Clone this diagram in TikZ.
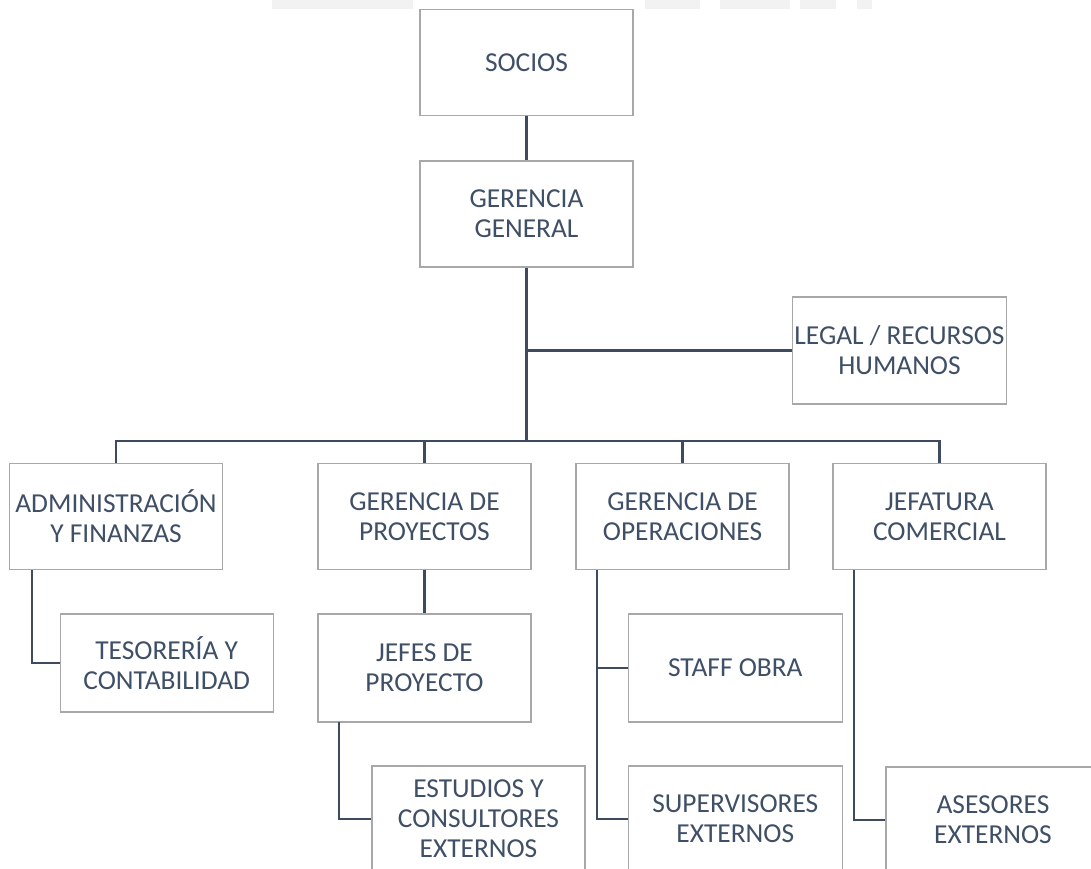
\documentclass[tikz,border=0pt]{standalone}
\usepackage{fontspec}
\setmainfont{Carlito}
\definecolor{slate}{HTML}{3F4F66}
\definecolor{linec}{HTML}{3E4B5E}
\definecolor{boxline}{HTML}{A8A8A8}
\definecolor{bandgray}{HTML}{F2F2F2}
\begin{document}
\begin{tikzpicture}[x=1pt,y=-1pt,
  unit/.style={draw=boxline, line width=1.3pt, fill=white, text=slate,
    minimum width=213pt, minimum height=106pt, inner sep=0pt, align=center,
    font=\fontsize{27.4}{30}\selectfont},
  link/.style={draw=linec, line width=2.6pt}]
\useasboundingbox (0,0) rectangle (1091,868);
\clip (0,0) rectangle (1091,868);
\fill[white] (0,0) rectangle (1091,868);

% faint letterhead band along the top edge
\fill[bandgray] (272,0) rectangle (413,9);
\fill[bandgray] (645,0) rectangle (700,9);
\fill[bandgray] (720,0) rectangle (790,9);
\fill[bandgray] (800,0) rectangle (836,9);
\fill[bandgray] (857,0) rectangle (872,9);

% top of the chart
\node[unit] (socios) at (526.5,62.5) {SOCIOS};
\node[unit] (gg) at (526.5,214) {GERENCIA\\GENERAL};
\node[unit, minimum width=214pt, minimum height=107pt] (legal) at (899.5,350.5) {LEGAL / RECURSOS\\HUMANOS};

% second level
\node[unit] (adm) at (116,516.5) {ADMINISTRACIÓN\\Y FINANZAS};
\node[unit] (gp) at (424.5,516.5) {GERENCIA DE\\PROYECTOS};
\node[unit] (go) at (682.5,516.5) {GERENCIA DE\\OPERACIONES};
\node[unit] (jc) at (939.5,516.5) {JEFATURA\\COMERCIAL};

% third level
\node[unit, minimum height=98pt] (tes) at (166.7,663) {TESORERÍA Y\\CONTABILIDAD};
\node[unit, minimum height=108pt] (jefes) at (424.5,668) {JEFES DE\\PROYECTO};
\node[unit, minimum width=214pt, minimum height=108pt] (staff) at (735.3,668) {STAFF OBRA};

% fourth level
\node[unit] (est) at (478.5,819) {ESTUDIOS Y\\CONSULTORES\\EXTERNOS};
\node[unit, minimum width=214pt] (sup) at (735.3,819) {SUPERVISORES\\EXTERNOS};
\node[unit, minimum width=214pt] (ase) at (993,820) {ASESORES\\EXTERNOS};

% connectors
\coordinate (hub) at (526.5,441);
\coordinate (a1) at (32,570);
\coordinate (j1) at (339,722);
\coordinate (o1) at (597,570);
\coordinate (c1) at (854,570);

\draw[link] (socios.south) -- (gg.north);
\draw[link] (gg.south) -- (hub);
\draw[link] (gg.south |- legal.west) -- (legal.west);
\draw[link] (adm.north) -- (adm.north |- hub) -- (jc.north |- hub) -- (jc.north);
\draw[link] (gp.north |- hub) -- (gp.north);
\draw[link] (go.north |- hub) -- (go.north);

\draw[link] (a1) -- (a1 |- tes.west) -- (tes.west);
\draw[link] (gp.south) -- (jefes.north);
\draw[link] (j1) -- (j1 |- est.west) -- (est.west);
\draw[link] (o1) -- (o1 |- sup.west) -- (sup.west);
\draw[link] (o1 |- staff.west) -- (staff.west);
\draw[link] (c1) -- (c1 |- ase.west) -- (ase.west);
\end{tikzpicture}
\end{document}
